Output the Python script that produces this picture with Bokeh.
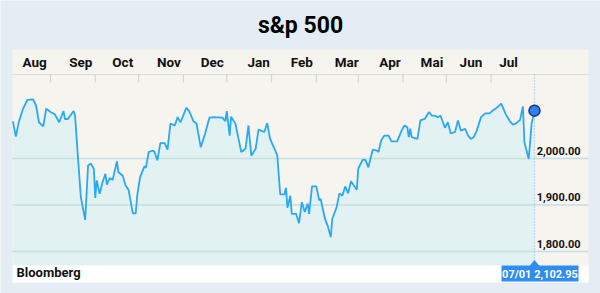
import pandas as pd
from bokeh.plotting import figure
from bokeh.models import Range1d
from bokeh.embed import file_html
from bokeh.resources import INLINE
from bokeh.core.properties import value

# ---------------- data ----------------
title_text = "s&p 500"
source_text = "Bloomberg"

dates = [
    "2015-07-06", "2015-07-08", "2015-07-10", "2015-07-13", "2015-07-16", "2015-07-20",
    "2015-07-22", "2015-07-24", "2015-07-27", "2015-07-29", "2015-08-01", "2015-08-04",
    "2015-08-07", "2015-08-10", "2015-08-11", "2015-08-13", "2015-08-17", "2015-08-18",
    "2015-08-20", "2015-08-22", "2015-08-25", "2015-08-27", "2015-08-29", "2015-08-31",
    "2015-09-01", "2015-09-02", "2015-09-04", "2015-09-06", "2015-09-08", "2015-09-09",
    "2015-09-11", "2015-09-13", "2015-09-16", "2015-09-17", "2015-09-20", "2015-09-22",
    "2015-09-24", "2015-09-27", "2015-09-29", "2015-09-30", "2015-10-02", "2015-10-05",
    "2015-10-06", "2015-10-08", "2015-10-11", "2015-10-12", "2015-10-14", "2015-10-16",
    "2015-10-19", "2015-10-21", "2015-10-23", "2015-10-26", "2015-10-28", "2015-10-30",
    "2015-11-03", "2015-11-05", "2015-11-08", "2015-11-10", "2015-11-13", "2015-11-16",
    "2015-11-19", "2015-11-22", "2015-11-28", "2015-11-30", "2015-12-01", "2015-12-03",
    "2015-12-04", "2015-12-07", "2015-12-11", "2015-12-14", "2015-12-16", "2015-12-18",
    "2015-12-21", "2015-12-23", "2015-12-27", "2015-12-29", "2015-12-31", "2016-01-04",
    "2016-01-05", "2016-01-07", "2016-01-10", "2016-01-11", "2016-01-12", "2016-01-14",
    "2016-01-15", "2016-01-18", "2016-01-20", "2016-01-22", "2016-01-24", "2016-01-26",
    "2016-01-27", "2016-01-29", "2016-02-01", "2016-02-03", "2016-02-04", "2016-02-07",
    "2016-02-09", "2016-02-11", "2016-02-12", "2016-02-15", "2016-02-17", "2016-02-19",
    "2016-02-21", "2016-02-23", "2016-02-25", "2016-02-27", "2016-02-29", "2016-03-01",
    "2016-03-04", "2016-03-06", "2016-03-08", "2016-03-11", "2016-03-14", "2016-03-15",
    "2016-03-17", "2016-03-19", "2016-03-22", "2016-03-24", "2016-03-28", "2016-03-31",
    "2016-04-02", "2016-04-04", "2016-04-05", "2016-04-06", "2016-04-07", "2016-04-11",
    "2016-04-13", "2016-04-16", "2016-04-19", "2016-04-21", "2016-04-23", "2016-04-25",
    "2016-04-27", "2016-04-30", "2016-05-02", "2016-05-04", "2016-05-07", "2016-05-09",
    "2016-05-11", "2016-05-14", "2016-05-16", "2016-05-18", "2016-05-20", "2016-05-22",
    "2016-05-25", "2016-05-28", "2016-05-31", "2016-06-02", "2016-06-04", "2016-06-06",
    "2016-06-08", "2016-06-11", "2016-06-14", "2016-06-16", "2016-06-18", "2016-06-21",
    "2016-06-23", "2016-06-24", "2016-06-27", "2016-06-29", "2016-07-01",
]
closes = [
    2080, 2047, 2078, 2107, 2126, 2127,
    2114, 2078, 2069, 2107, 2100, 2095,
    2078, 2102, 2085, 2085, 2102, 2092,
    2003, 1917, 1868, 1985, 1989, 1978,
    1915, 1953, 1924, 1949, 1967, 1944,
    1958, 1954, 1994, 1971, 1963, 1942,
    1933, 1882, 1882, 1920, 1960, 1983,
    1980, 2014, 2017, 2014, 1996, 2033,
    2033, 2019, 2075, 2071, 2089, 2078,
    2109, 2102, 2080, 2076, 2024, 2053,
    2088, 2089, 2088, 2080, 2102, 2049,
    2090, 2075, 2014, 2021, 2071, 2006,
    2021, 2062, 2057, 2076, 2042, 2014,
    2006, 1923, 1923, 1937, 1894, 1920,
    1881, 1881, 1861, 1906, 1885, 1903,
    1881, 1940, 1940, 1910, 1913, 1870,
    1854, 1831, 1870, 1895, 1925, 1920,
    1940, 1925, 1951, 1942, 1933, 1978,
    1997, 1997, 1981, 2019, 2017, 2014,
    2040, 2049, 2049, 2037, 2037, 2060,
    2071, 2067, 2046, 2064, 2046, 2042,
    2082, 2085, 2100, 2092, 2092, 2089,
    2092, 2066, 2078, 2054, 2057, 2082,
    2060, 2064, 2049, 2042, 2046, 2060,
    2089, 2097, 2097, 2103, 2107, 2112,
    2118, 2096, 2080, 2073, 2075, 2083,
    2112, 2035, 1999, 2075, 2102.95,
]

month_labels = ["Aug", "Sep", "Oct", "Nov", "Dec", "Jan", "Feb", "Mar", "Apr", "Mai", "Jun", "Jul"]
month_label_dates = ["2015-07-21", "2015-08-22", "2015-09-20", "2015-10-22", "2015-11-21",
                     "2015-12-23", "2016-01-22", "2016-02-22", "2016-03-23", "2016-04-21",
                     "2016-05-18", "2016-06-13"]
month_tick_dates = ["2015-08-01", "2015-09-01", "2015-10-01", "2015-11-01", "2015-12-01",
                    "2016-01-01", "2016-02-01", "2016-03-01", "2016-04-01", "2016-05-01",
                    "2016-06-01"]
y_ticks = [1800, 1900, 2000]
y_tick_labels = ["1,800.00", "1,900.00", "2,000.00"]
last_label = "07/01 2,102.95"

# ---------------- geometry (pixel <-> data) ----------------
W, H = 600, 293
X_REF = pd.Timestamp("2015-08-01")
PX_REF = 50.0
DAYS_PER_PX = 335.0 / 484.0
Y_REF = 2000.0
PY_REF = 158.0
PX_PER_UNIT = 0.465


def dx(px):
    return (X_REF + pd.Timedelta(days=(px - PX_REF) * DAYS_PER_PX)).to_pydatetime()


def dy(py):
    return Y_REF + (PY_REF - py) / PX_PER_UNIT


FONT = "Roboto"
OUTER = "#e3edf3"
CREAM = "#f6f4ee"
FILL = "#e2f1f1"
LINE = "#2aa8f4"
GRID = "#c3dfdf"

xs = [d.to_pydatetime() for d in pd.to_datetime(dates)]
last_x = xs[-1]
last_y = closes[-1]

p = figure(width=W, height=H, output_backend="svg", toolbar_location=None,
           x_range=Range1d(dx(0), dx(W)), y_range=Range1d(dy(H), dy(0)),
           x_axis_location=None, y_axis_location=None, min_border=0)
p.background_fill_color = OUTER
p.border_fill_color = OUTER
p.outline_line_color = None
p.xgrid.visible = False
p.ygrid.visible = False

# panel
p.quad(left=dx(12), right=dx(588), top=dy(49), bottom=dy(282), fill_color=CREAM, line_color=None)

# area under the line
p.varea(x=xs, y1=dy(265), y2=closes, fill_color=FILL)

# grid lines
p.segment(x0=dx(12), x1=dx(588), y0=y_ticks, y1=y_ticks, line_color=GRID, line_width=1.5)

# top separator and month ticks
p.segment(x0=dx(12), x1=dx(588), y0=dy(74), y1=dy(74), line_color="#dedbd2", line_width=1.2)
tick_x = [d.to_pydatetime() for d in pd.to_datetime(month_tick_dates)]
p.segment(x0=tick_x, x1=tick_x, y0=dy(74), y1=dy(82), line_color="#d6d3ca", line_width=1.2)

# price line
p.line(x=xs, y=closes, line_color=LINE, line_width=1.8)

# bottom white strip
p.quad(left=dx(12), right=dx(588), top=dy(265), bottom=dy(282), fill_color="#ffffff", line_color=None)

# dotted vertical marker line
p.segment(x0=[last_x], x1=[last_x], y0=dy(74), y1=dy(262), line_color="#8ab7e8",
          line_width=1.2, line_dash="1 2")

# end marker
p.scatter(x=[last_x], y=[last_y], size=11, fill_color="#2f80f0", line_color="#17367c", line_width=1.5)

# value box with pointer
p.quad(left=dx(501), right=dx(578), top=dy(265), bottom=dy(281), fill_color="#2f8cf0", line_color=None)
half = pd.Timedelta(days=5 * DAYS_PER_PX).to_pytimedelta()
p.patch(x=[last_x - half, last_x, last_x + half], y=[dy(265.5), dy(259.5), dy(265.5)],
        fill_color="#2f8cf0", line_color=None)


def txt(x, y, t, size, color="#111111", align="center"):
    p.text(x=x, y=y, text=t, text_font=value(FONT), text_font_style="bold",
           text_font_size=size, text_color=color, text_align=align,
           text_baseline="alphabetic")


txt([dx(539.5)], [dy(273.5)], [last_label], "11px", color="#ffffff")
txt([dx(300)], [dy(24.5)], [title_text], "23px", color="#000000")
lab_x = [d.to_pydatetime() for d in pd.to_datetime(month_label_dates)]
txt(lab_x, [dy(61.5)] * len(lab_x), month_labels, "13.5px")
txt([dx(580)] * len(y_ticks), [t + 8 / PX_PER_UNIT for t in y_ticks], y_tick_labels, "11px",
    align="right")
txt([dx(16)], [dy(272)], [source_text], "13px", align="left")

open("out.html", "w").write(file_html(p, INLINE))
